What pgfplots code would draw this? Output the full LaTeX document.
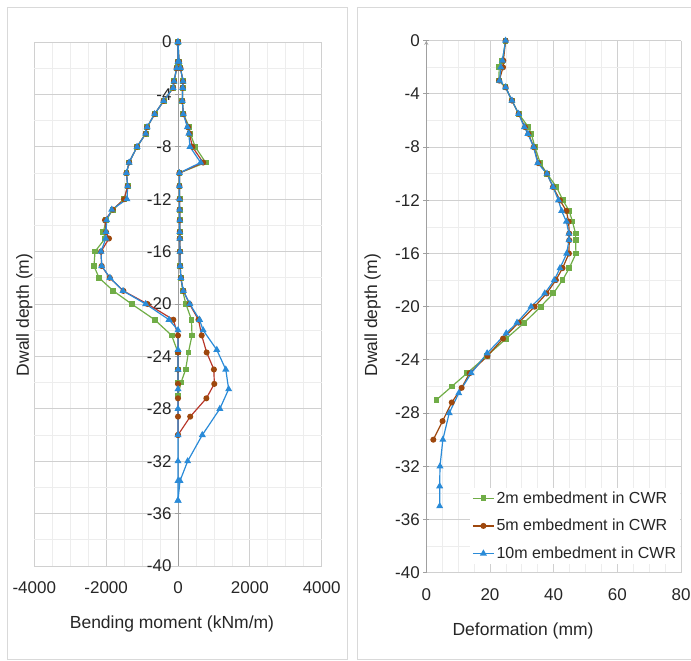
\documentclass[border=0pt]{standalone}
\usepackage{fontspec}
\setmainfont{Liberation Sans}
\usepackage{pgfplots}
\usepackage{pgfplotstable}
\pgfplotsset{compat=1.18}
\definecolor{cgreen}{HTML}{70AD47}
\definecolor{cbrown}{HTML}{9E480E}
\definecolor{cred}{HTML}{B8372A}
\definecolor{cblue}{HTML}{2A8BD8}
\definecolor{gmaj}{HTML}{D0D0D0}
\definecolor{gmin}{HTML}{EDEDED}
\definecolor{framec}{HTML}{D9D9D9}
\definecolor{axg}{HTML}{A0A0A0}

\pgfplotstableread{
d      mmin   mmax  def
0      0      0     24.9
-1.5   0      28    23.9
-2     -37    70    22.9
-3     -110   140   22.8
-3.5   -135   130   24.9
-4.5   -400   120   26.9
-5.5   -650   150   29.0
-6.5   -860   315   32.1
-7     -900   340   33.0
-8     -1140  480   34.1
-9.2   -1360  770   35.8
-10    -1435  40    37.9
-11    -1400  40    40.9
-12    -1500  45    42.9
-12.8  -1815  45    44.9
-13.6  -2000  50    45.9
-14.5  -2079  50    46.9
-15    -2030  50    46.9
-16    -2310  55    47.0
-17.1  -2338  60    44.9
-18    -2199  80    42.8
-19    -1800  130   39.9
-20    -1290  220   35.9
-21.2  -650   375   30.8
-22.4  -176   390   25.1
-23.7  0      290   19.0
-25    0      213   12.8
-26    0      83    8.0
-27    0      0     3.2
}\tgreen

\pgfplotstableread{
d      mmin   mmax  def
0      0      0     24.9
-1.5   0      28    24.2
-2     -37    70    24.1
-3     -110   140   22.9
-3.5   -135   130   24.9
-4.5   -400   120   26.9
-5.5   -650   150   29.0
-6.5   -860   280   31.0
-7     -900   320   32.1
-8     -1140  400   33.75
-9.2   -1360  700   35.2
-10    -1435  40    37.9
-11    -1400  40    39.8
-12    -1500  45    42.0
-12.8  -1815  45    44.0
-13.6  -2032  50    44.7
-14.5  -2004  50    44.9
-15    -1921  50    44.9
-16    -2143  55    44.8
-17.1  -2124  60    42.8
-18    -1900  80    40.7
-19    -1520  150   37.8
-20    -850   320   34.0
-21.2  -130   570   29.0
-22.4  0      660   24.1
-23.7  0      798   19.2
-25    0      1000  13.6
-26.1  0      1010  11.1
-27.2  0      790   8.0
-28.6  0      340   5.1
-30    0      0     2.2
}\tbrown

\pgfplotstableread{
d      mmin   mmax  def
0      0      0     24.9
-1.5   0      28    23.9
-2     -37    70    23.4
-3     -110   140   23.0
-3.5   -135   130   24.9
-4.5   -400   120   26.9
-5.5   -650   150   29.0
-6.5   -860   260   30.8
-7     -900   300   31.9
-8     -1140  334   33.7
-9.2   -1360  630   35.0
-10    -1435  40    37.9
-11    -1400  40    39.8
-12    -1420  45    41.5
-12.8  -1846  45    42.5
-13.6  -1985  50    44.0
-14.5  -2004  50    44.8
-15    -2010  50    44.8
-16    -2143  55    44.1
-17.1  -2124  60    42.0
-18    -1893  80    40.2
-19    -1530  150   37.2
-20    -900   330   32.9
-21.2  -250   600   28.5
-22    0      700   25.1
-23.5  0      1080  19.1
-25    0      1330  14.1
-26.5  0      1410  10.2
-28    0      1165  7.2
-30    0      676   5.2
-32    0      269   4.3
-33.5  0      56    4.2
-35    0      0     4.2
}\tblue

\pgfplotsset{
  sgreen/.style={color=cgreen, line width=1.2pt, mark=square*, mark size=2.3pt, mark options={solid, fill=cgreen}},
  sbrown/.style={color=cbrown, line width=1.2pt, mark=*, mark size=2.4pt, mark options={solid, fill=cbrown}},
  sbrownl/.style={color=cred, line width=1.2pt, mark=*, mark size=2.4pt, mark options={solid, fill=cbrown, draw=cbrown}},
  sblue/.style={color=cblue, line width=1.2pt, mark=triangle*, mark size=2.9pt, mark options={solid, fill=cblue}},
  common/.style={
    scale only axis,
    clip=false,
    /pgf/number format/assume math mode=true,
    /pgf/number format/1000 sep={},
    scaled ticks=false,
    axis x line=bottom,
    x axis line style={-, draw=gmaj, line width=0.8pt},
    y axis line style={-, draw=axg, line width=0.9pt},
    hide obscured x ticks=false,
    hide obscured y ticks=false,
    grid=both,
    major grid style={draw=gmaj, line width=0.8pt},
    minor grid style={draw=gmin, line width=0.7pt},
    xtick style={draw=none},
    ytick style={draw=axg, line width=0.9pt},
    tick align=outside,
    major tick length=6pt,
    minor tick length=0pt,
    ymin=-40, ymax=0,
    ytick={-40,-36,...,0},
    minor y tick num=1,
    tick label style={font=\fontsize{17}{20}\selectfont, text=black!85},
  },
}

\begin{document}
\begin{tikzpicture}
\useasboundingbox (0,0) rectangle (691pt,661pt);
\draw[framec, line width=0.8pt] (7pt,2pt) rectangle (347pt,654pt);
\draw[framec, line width=0.8pt] (700pt,654pt) -- (357pt,654pt) -- (357pt,2pt) -- (700pt,2pt);

\begin{axis}[common,
  at={(34.3pt,95pt)}, anchor=south west,
  width=287.4pt, height=524pt,
  axis y line=center,
  xmin=-4000, xmax=4000,
  xtick={-4000,-2000,...,4000},
  minor x tick num=3,
  xticklabel style={yshift=-6pt},
  xlabel={Bending moment (kNm/m)},
  ylabel={Dwall depth (m)},
  every axis x label/.style={at={(rel axis cs:0.479,-0.111)}, anchor=center, font=\fontsize{17.5}{21}\selectfont, text=black!85},
  every axis y label/.style={at={(rel axis cs:-0.035,0.479)}, rotate=90, anchor=center, font=\fontsize{17.5}{21}\selectfont, text=black!85},
]
\addplot[sgreen] table[x=mmin, y=d] {\tgreen};
\addplot[sgreen] table[x=mmax, y=d] {\tgreen};
\addplot[sbrownl] table[x=mmin, y=d] {\tbrown};
\addplot[sbrownl] table[x=mmax, y=d] {\tbrown};
\addplot[sblue] table[x=mmin, y=d] {\tblue};
\addplot[sblue] table[x=mmax, y=d] {\tblue};
\end{axis}

\begin{axis}[common,
  at={(426.3pt,88.3pt)}, anchor=south west,
  width=254.7pt, height=532pt,
  axis y line=left,
  xmin=0, xmax=80,
  xtick={0,20,...,80},
  minor x tick num=3,
  xticklabel style={yshift=-6pt},
  xlabel={Deformation (mm)},
  ylabel={Dwall depth (m)},
  every axis x label/.style={at={(rel axis cs:0.38,-0.11)}, anchor=center, font=\fontsize{17.5}{21}\selectfont, text=black!85},
  every axis y label/.style={at={(rel axis cs:-0.211,0.484)}, rotate=90, anchor=center, font=\fontsize{17.5}{21}\selectfont, text=black!85},
  legend style={at={(rel axis cs:0.172,0.16)}, anchor=north west, draw=none, fill=white,
    font=\fontsize{16}{19}\selectfont, text=black!85, row sep=10.5pt, inner sep=2pt},
  legend cell align=left,
  legend image code/.code={\draw[mark repeat=2, mark phase=2] plot coordinates {(0pt,0pt) (10.5pt,0pt) (21pt,0pt)};},
]
\addplot[sgreen] table[x=def, y=d] {\tgreen};
\addlegendentry{2m embedment in CWR}
\addplot[sbrown] table[x=def, y=d] {\tbrown};
\addlegendentry{5m embedment in CWR}
\addplot[sblue] table[x=def, y=d] {\tblue};
\addlegendentry{10m embedment in CWR}
\end{axis}
\end{tikzpicture}
\end{document}
